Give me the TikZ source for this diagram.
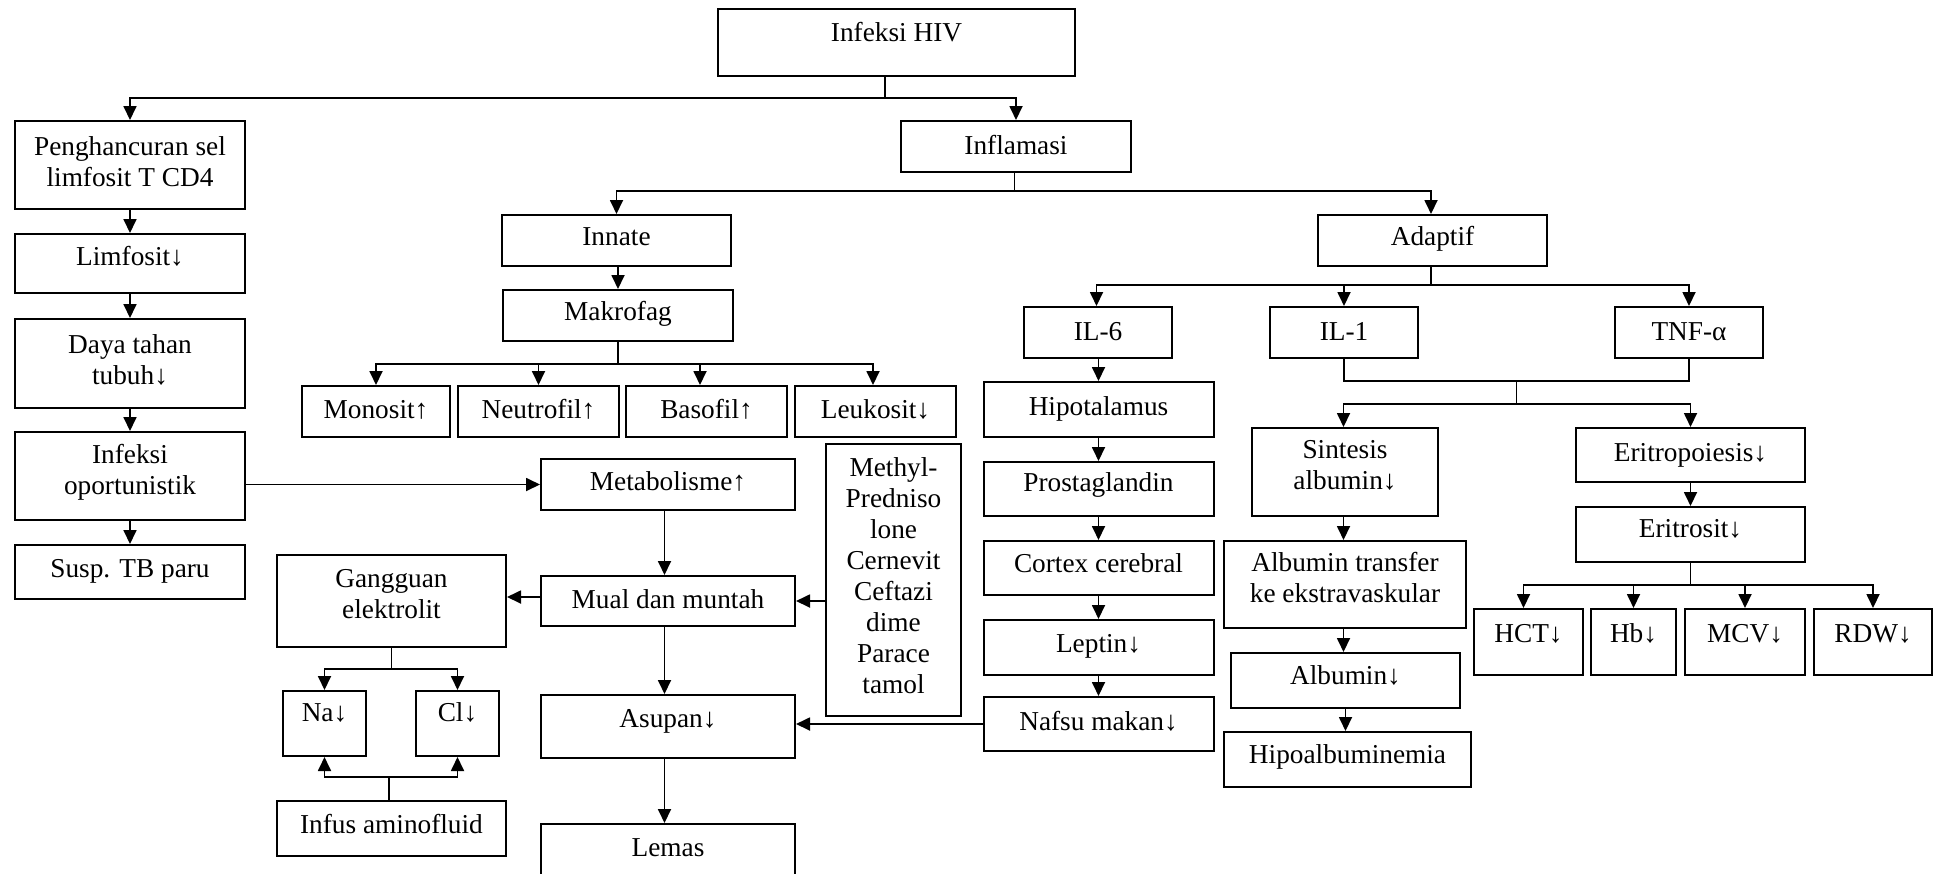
\documentclass[tikz,border=0pt]{standalone}
\usepackage{fontspec}
\setmainfont{Liberation Serif}
\usetikzlibrary{arrows.meta,fit,calc}
\tikzset{
  box/.style={draw, line width=2pt, rectangle, inner sep=0pt},
  lbl/.style={inner sep=0pt, align=center, font=\fontsize{27.3pt}{31pt}\selectfont, execute at begin node=\strut},
  conn/.style={line width=1.8pt},
  arr/.style={conn, -{Triangle[length=14pt,width=13pt]}},
}
\newcommand{\bx}[7]{\node[box, fit={(#2,#3) (#4,#5)}] (#1) {};
  \node[lbl] (#1-t) at (#1.center |- 0,#6) {#7};}
\begin{document}
\begin{tikzpicture}[x=1pt,y=-1pt]
\useasboundingbox (0,0) rectangle (1937,873);
\fill[white] (0,0) rectangle (1937,873);
% boxes
\bx{hiv}{718}{9}{1075}{76}{35}{Infeksi HIV}
\bx{pen}{15}{121}{245}{209}{166}{Penghancuran sel\\limfosit T CD4\strut}
\bx{inf}{901}{121}{1131}{172}{148}{Inflamasi}
\bx{lim}{15}{234}{245}{293}{259}{Limfosit↓}
\bx{innate}{502}{215}{731}{266}{239}{Innate}
\bx{adap}{1318}{215}{1547}{266}{239}{Adaptif}
\bx{makro}{503}{290}{733}{341}{314}{Makrofag}
\bx{daya}{15}{319}{245}{408}{364}{Daya tahan\\tubuh↓\strut}
\bx{mono}{302}{386}{450}{437}{412}{Monosit↑}
\bx{neut}{458}{386}{619}{437}{412}{Neutrofil↑}
\bx{baso}{626}{386}{787}{437}{412}{Basofil↑}
\bx{leuko}{795}{386}{956}{437}{412}{Leukosit↓}
\bx{ilsix}{1024}{307}{1172}{358}{334}{IL-6}
\bx{ilone}{1270}{307}{1418}{358}{334}{IL-1}
\bx{tnf}{1615}{307}{1763}{358}{334}{TNF-α}
\bx{hipo}{983.5}{382}{1213.5}{437}{409}{Hipotalamus}
\bx{opp}{15}{432}{245}{520}{474}{Infeksi\\oportunistik\strut}
\bx{meta}{541}{459}{795}{510}{484}{Metabolisme↑}
\bx{meth}{826}{444}{961}{716}{580}{Methyl-\\Predniso\\lone\\Cernevit\\Ceftazi\\dime\\Parace\\tamol\strut}
\bx{prost}{983.5}{462}{1213.5}{516}{485}{Prostaglandin}
\bx{sint}{1252}{428}{1438}{516}{470}{Sintesis\\albumin↓\strut}
\bx{eritp}{1576}{428}{1805}{482}{455}{Eritropoiesis↓}
\bx{eritr}{1576}{507}{1805}{562}{531}{Eritrosit↓}
\bx{tb}{15}{545}{245}{599}{571}{Susp. TB paru}
\bx{gang}{277}{555}{506}{647}{599}{Gangguan\\elektrolit\strut}
\bx{mual}{541}{576}{795}{626}{602}{Mual dan muntah}
\bx{cortex}{983.5}{541}{1213.5}{595}{566}{Cortex cerebral}
\bx{alt}{1224}{541}{1466}{628}{582}{Albumin transfer\\ke ekstravaskular\strut}
\bx{leptin}{983.5}{620}{1213.5}{675}{646}{Leptin↓}
\bx{alb}{1231}{653}{1460}{708}{678}{Albumin↓}
\bx{hct}{1474}{609}{1583}{675}{636}{HCT↓}
\bx{hbx}{1591}{609}{1676}{675}{636}{Hb↓}
\bx{mcv}{1685}{609}{1805}{675}{636}{MCV↓}
\bx{rdw}{1814}{609}{1932}{675}{636}{RDW↓}
\bx{na}{283}{691}{366}{756}{715}{Na↓}
\bx{cl}{416}{691}{499}{756}{715}{Cl↓}
\bx{asup}{541}{695}{795}{758}{721}{Asupan↓}
\bx{nafsu}{983.5}{697}{1213.5}{751}{724}{Nafsu makan↓}
\bx{hal}{1224}{732}{1471}{787}{757}{Hipoalbuminemia}
\bx{infus}{277}{801}{506}{856}{827}{Infus aminofluid}
\bx{lemas}{541}{824}{795}{885}{850}{Lemas}
% connectors
\draw[arr] ([xshift=-11.5pt]hiv.south) -- ++(0,21) coordinate (hivb) -| (pen.north);
\draw[arr] (hivb) -| (inf.north);
\draw[arr] (pen) -- (lim);
\draw[arr] (lim) -- (daya);
\draw[arr] (daya) -- (opp);
\draw[arr] (opp) -- (tb);
\draw[arr] ([xshift=-1.5pt]inf.south) -- ++(0,18) coordinate (ib) -| (innate.north);
\draw[arr] (ib) -| ([xshift=-1.5pt]adap.north);
\draw[arr] (makro.north |- innate.south) -- (makro.north);
\draw[arr] (makro.south) -- ++(0,22) coordinate (mb) -| (mono.north);
\draw[arr] (mb) -| (neut.north);
\draw[arr] (mb) -| ([xshift=-6.5pt]baso.north);
\draw[arr] (mb) -| ([xshift=-2.5pt]leuko.north);
\draw[arr] (opp.east |- meta.west) -- (meta.west);
\draw[arr] ([xshift=-3.5pt]meta.south) -- ([xshift=-3.5pt]mual.north);
\coordinate (mw) at ([yshift=4pt]mual.west);
\draw[arr] (mw) -- (gang.east |- mw);
\draw[arr] (meth.west |- mual.east) -- (mual.east);
\draw[arr] ([xshift=-3.5pt]mual.south) -- ([xshift=-3.5pt]asup.north);
\draw[arr] ([xshift=-3.5pt]asup.south) -- ([xshift=-3.5pt]lemas.north);
\draw[arr] (nafsu.west) -- (asup.east |- nafsu.west);
\draw[arr] (gang.south) -- ++(0,21) coordinate (gb) -| (na.north);
\draw[arr] (gb) -| (cl.north);
\draw[arr] ([xshift=-2.5pt]infus.north) -- ++(0,-23) coordinate (fb) -| (na.south);
\draw[arr] (fb) -| (cl.south);
\draw[arr] ([xshift=-1.5pt]adap.south) -- ++(0,18) coordinate (ab) -| ([xshift=-1.5pt]ilsix.north);
\draw[arr] (ab) -| (ilone.north);
\draw[arr] (ab) -| (tnf.north);
\draw[arr] (hipo.north |- ilsix.south) -- (hipo.north);
\draw[arr] (hipo) -- (prost);
\draw[arr] (prost) -- (cortex);
\draw[arr] (cortex) -- (leptin);
\draw[arr] (leptin) -- (nafsu);
\draw[conn] (ilone.south) -- ++(0,22) -| (tnf.south);
\coordinate (jm) at ($(ilone.south)!0.5!(tnf.south)+(0,22)$);
\draw[arr] (jm) -- ++(0,23) coordinate (jb) -| ([xshift=-1.5pt]sint.north);
\draw[arr] (jb) -| (eritp.north);
\draw[arr] ([xshift=-1.5pt]sint.south) -- ([xshift=-1.5pt]sint.south |- alt.north);
\draw[arr] ([xshift=-1.5pt]alt.south) -- ([xshift=-1.5pt]alt.south |- alb.north);
\draw[arr] (alb.south) -- (alb.south |- hal.north);
\draw[arr] (eritp) -- (eritr);
\draw[arr] (eritr.south) -- ++(0,22) coordinate (eb) -| ([xshift=-5pt]hct.north);
\draw[arr] (eb) -| (hbx.north);
\draw[arr] (eb) -| (mcv.north);
\draw[arr] (eb) -| (rdw.north);
\end{tikzpicture}
\end{document}
